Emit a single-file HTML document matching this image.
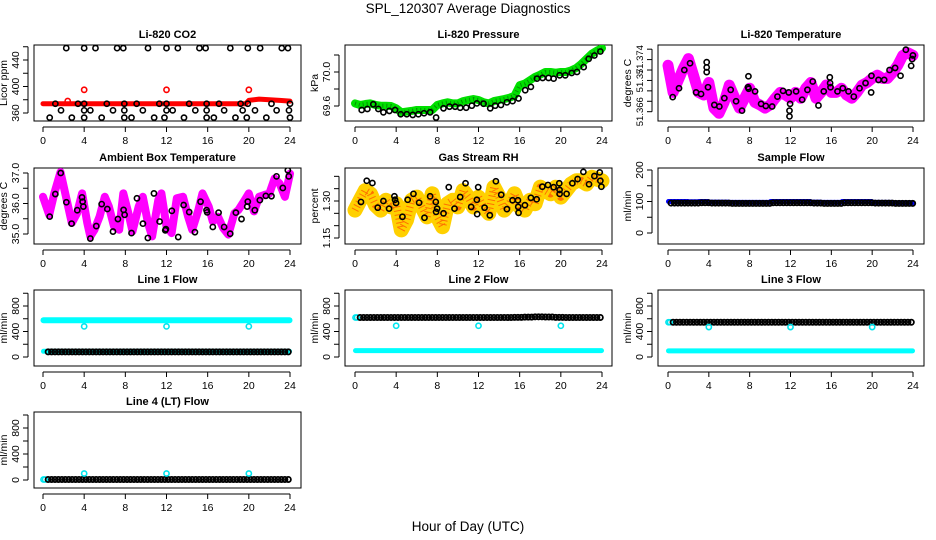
<!DOCTYPE html>
<html><head><meta charset="utf-8">
<style>
html,body{margin:0;padding:0;background:#fff;}
svg{display:block;font-family:"Liberation Sans",Arial,sans-serif;}
</style></head>
<body>
<svg id="chart" width="936" height="540" viewBox="0 0 936 540" xmlns="http://www.w3.org/2000/svg">
<text x="468" y="13" text-anchor="middle" font-size="13.5">SPL_120307  Average Diagnostics</text>
<text x="468" y="531" text-anchor="middle" font-size="13.5">Hour of Day (UTC)</text>
</svg>
<script>
// ---------- data ----------
const xTicks = [0,4,8,12,16,20,24];
// CO2
const co2LineHours = [0,2,4,6,8,10,12,14,16,18,19.7,20,21,22,23,24];
const co2LineVals  = [374,374,374,374,374,374,374,374,374,374,374,379,381,380,379,378];
const co2RedOutHours = [2.4,4,12,20];
const co2RedOutVals  = [378,395,395,395];
const co2BlackHours = [2.26,4.0,5.1,7.2,7.8,10.2,12,13.1,15.2,15.8,18.2,19.9,21.1,23.2,23.8,
 1.2,3.4,4.0,6.2,7.9,9.1,11.3,12,14.2,15.9,17.1,19.2,19.9,22.2,24,
 1.75,4.0,4.6,6.8,7.9,9.7,12,12.6,14.8,15.9,17.6,19.4,20.6,22.7,23.9,
 0.65,2.8,4.0,5.7,7.9,8.6,10.8,11.8,13.7,15.9,16.6,18.7,19.8,21.7,24.0];
const co2BlackVals = [458,458,458,458,458,458,458,458,458,458,458,458,458,458,458,
 374,374,374,374,374,374,374,374,374,374,374,374,374,374,374,
 364,364,364,364,364,364,364,364,364,364,364,364,364,364,364,
 353,353,353,353,353,353,353,353,353,353,353,353,353,353,353];
// Pressure
const halfHours = [0,0.5,1,1.5,2,2.5,3,3.5,4,4.5,5,5.5,6,6.5,7,7.5,8,8.5,9,9.5,10,10.5,11,11.5,12,12.5,13,13.5,14,14.5,15,15.5,16,16.5,17,17.5,18,18.5,19,19.5,20,20.5,21,21.5,22,22.5,23,23.5,24];
const presGreen = [69.631,69.612,69.623,69.631,69.612,69.604,69.604,69.6,69.573,69.526,69.534,69.542,69.553,69.553,69.553,69.553,69.612,69.631,69.643,69.631,69.631,69.658,69.670,69.682,69.670,69.643,69.631,69.658,69.670,69.682,69.697,69.720,69.845,69.864,69.903,69.942,69.969,70.0,70.0,69.992,70.0,70.0,70.019,70.047,70.097,70.155,70.214,70.252,70.280];
const presBlackHours = [0.65,1.2,1.78,2.27,2.76,3.34,3.89,4.44,5.03,5.61,6.16,6.71,7.3,7.88,8.6,9.18,9.73,10.22,10.8,11.35,11.84,12.49,13.14,13.62,14.18,14.76,15.31,15.89,16.54,17.09,17.68,18.23,18.81,19.3,19.88,20.43,21.05,21.57,22.22,22.71,23.26,23.84];
const presBlackVals = [69.553,69.565,69.620,69.565,69.526,69.542,69.553,69.503,69.503,69.495,69.503,69.515,69.526,69.464,69.573,69.592,69.592,69.580,69.580,69.604,69.631,69.627,69.573,69.604,69.612,69.643,69.658,69.689,69.786,69.825,69.922,69.930,69.930,69.922,69.961,69.961,69.988,70.0,70.058,70.155,70.194,70.241];
// Li-820 temperature
const tempMag = [51.3729,51.3677,51.3700,51.3723,51.3742,51.3710,51.3677,51.3672,51.3696,51.3647,51.3637,51.3658,51.3691,51.3668,51.3647,51.3666,51.3685,51.3658,51.3653,51.3647,51.3653,51.3666,51.3677,51.3672,51.3666,51.3677,51.3666,51.3685,51.3696,51.3666,51.3677,51.3691,51.3677,51.3677,51.3685,51.3672,51.3666,51.3677,51.3691,51.3696,51.3704,51.3710,51.3704,51.3704,51.3715,51.3729,51.3748,51.3753,51.3748];
const tempBlackHours = [0.46,1.08,1.6,2.16,2.75,3.24,3.79,3.79,3.79,3.92,4.54,5.03,5.52,6.14,6.67,7.25,7.88,7.84,7.9,8.53,9.12,9.58,10.2,10.72,11.27,11.83,11.96,11.9,11.9,12.55,13.14,13.66,14.18,14.74,15.26,15.85,15.88,15.92,16.6,17.12,17.68,18.2,18.76,19.35,19.93,19.9,20.62,21.18,21.7,22.25,22.78,23.3,23.82,23.92,23.99];
const tempBlackVals = [51.3668,51.3685,51.3720,51.3733,51.3677,51.3674,51.3735,51.3725,51.3716,51.3687,51.3653,51.3650,51.3666,51.3682,51.3660,51.3642,51.3708,51.3687,51.3684,51.3679,51.3655,51.3651,51.3650,51.3669,51.3680,51.3677,51.3655,51.3642,51.3631,51.3679,51.3663,51.3682,51.3698,51.3652,51.3679,51.3706,51.3695,51.3687,51.3679,51.3685,51.3679,51.3669,51.3685,51.3695,51.3709,51.3677,51.3701,51.3701,51.3720,51.3724,51.3709,51.3759,51.3728,51.3741,51.3748];
// Ambient box temperature
const ambHours = [0,0.6,1.1,1.7,2.2,2.8,3.3,3.8,4.3,4.6,5.0,5.5,6.0,6.4,6.9,7.4,7.8,8.3,8.7,9.3,9.7,10.2,10.6,11.2,11.5,12.0,12.5,13.0,13.6,14.1,14.5,15.1,15.5,16.1,16.5,17.0,17.5,18.0,18.6,19.0,19.6,20.0,20.5,21.0,21.5,22.0,22.5,23.0,23.5,24];
const ambMag = [36.22,35.63,36.33,37.03,36.28,35.36,35.68,36.33,35.36,34.92,35.14,35.57,36.22,35.9,35.25,35.14,36.33,35.68,35.09,35.9,36.22,35.36,34.92,36.11,36.33,35.25,35.03,36.17,36.22,35.57,35.14,35.79,36.33,35.9,35.41,35.57,35.2,34.98,35.68,35.79,36.11,36.33,35.74,36.22,36.28,36.33,36.82,36.65,36.22,36.98];
const ambBlackHours = [0.65,1.2,1.72,2.27,2.78,3.33,3.79,3.85,3.92,4.6,5.18,5.7,6.25,6.8,7.28,7.83,7.93,8.6,9.13,9.71,10.19,10.78,11.33,11.88,11.94,12.52,13.14,13.66,14.21,14.76,15.31,15.89,15.95,16.5,17.06,17.6,18.19,18.74,19.29,19.84,19.9,20.58,21.07,21.65,22.2,22.69,23.3,23.79,23.88];
const ambBlackVals = [35.57,36.31,37.0,36.04,35.34,35.78,36.2,36.06,35.9,34.85,35.26,35.98,35.82,35.08,35.49,35.79,35.63,35.03,36.17,35.34,34.87,36.33,35.41,35.12,35.16,35.76,34.9,35.95,35.72,35.06,36.06,35.78,35.71,35.23,35.7,35.23,35.01,35.7,35.49,35.9,36.06,35.78,36.11,36.25,36.24,36.89,36.51,37.09,36.89];
// Gas stream RH
const rhBand = [1.263,1.303,1.342,1.329,1.283,1.263,1.303,1.276,1.289,1.183,1.223,1.303,1.316,1.276,1.236,1.329,1.236,1.196,1.289,1.303,1.276,1.342,1.316,1.276,1.316,1.276,1.250,1.356,1.316,1.263,1.289,1.329,1.276,1.263,1.303,1.289,1.356,1.342,1.329,1.356,1.316,1.342,1.369,1.382,1.382,1.369,1.396,1.389,1.382];
const rhBlackHours = [0.58,1.14,1.69,2.21,2.76,3.31,3.83,3.89,3.99,4.61,5.12,5.68,6.23,6.75,7.3,7.85,7.88,7.98,8.6,9.11,9.67,10.22,10.74,11.29,11.84,11.87,11.97,12.59,13.1,13.69,14.21,14.76,15.31,15.83,15.86,15.89,16.51,17.09,17.65,18.2,18.75,19.3,19.85,19.88,19.88,20.56,21.12,21.63,22.19,22.74,23.26,23.78,23.84,23.94];
const rhBlackVals = [1.296,1.382,1.373,1.273,1.300,1.269,1.319,1.305,1.292,1.236,1.305,1.329,1.293,1.232,1.319,1.296,1.256,1.269,1.250,1.356,1.269,1.316,1.372,1.276,1.305,1.247,1.356,1.273,1.242,1.380,1.325,1.267,1.303,1.303,1.276,1.252,1.283,1.313,1.307,1.358,1.365,1.356,1.372,1.345,1.329,1.329,1.372,1.389,1.418,1.368,1.401,1.416,1.382,1.358];
// Flows (hourly values, hour 0..23)
const sampleBlue  = [100,100,99,100,98,98,97,97,97,97,100,100,100,100,98,97,97,100,100,100,97,97,96,96];
const sampleBlack = [95,95,95,96,95,95,94,94,94,94,96,96,96,96,95,94,94,96,96,96,95,95,94,94];
const line1CyanHigh = [575,575,575,575,575,575,575,575,575,575,575,575,575,575,575,575,575,575,575,575,575,575,575,575];
const line1CyanLow  = [90,90,90,90,90,90,90,90,90,90,90,90,90,90,90,90,90,90,90,90,90,90,90,90];
const line1Black    = [80,80,80,80,80,80,80,80,80,80,80,80,80,80,80,80,80,80,80,80,80,80,80,80];
const line2CyanLow  = [100,100,100,100,100,100,100,100,100,100,100,100,100,100,100,100,100,100,100,100,100,100,100,100];
const line2Black    = [620,620,620,620,620,620,620,620,620,620,620,620,620,620,620,622,625,630,628,622,620,620,620,620];
const line3CyanLow  = [95,95,95,95,95,95,95,95,95,95,95,95,95,95,95,95,95,95,95,95,95,95,95,95];
const line3Black    = [545,545,545,545,545,545,545,545,545,545,545,545,545,545,545,545,545,545,545,545,545,545,545,545];
const line4Black    = [8,8,8,8,8,8,8,8,8,8,8,8,8,8,8,8,8,8,8,8,8,8,8,8];
const outHours = [4,12,20];
const line1Out = [480,480,480];
const line2Out = [490,490,490];
const line3Out = [470,470,470];
const line4Out = [100,100,100];
const lineStartCyan = [575,620,545,8];

// ---------- drawing ----------
const NS = 'http://www.w3.org/2000/svg';
const svg = document.getElementById('chart');
const cols = [{l:34,r:301,x0:43,x24:290},{l:345,r:612,x0:355,x24:602},{l:658,r:924,x0:668,x24:913}];
const rows = [45,168,290,412];
const H = 76;
let clipN = 0;
function mk(tag, attrs, parent){ const e=document.createElementNS(NS,tag); for(const k in attrs) e.setAttribute(k,attrs[k]); (parent||svg).appendChild(e); return e; }

function panel(name, title, ci, ri, yv1, yp1, yv2, yp2, yTickVals, yLabelVals, yLabelText, yTitle, lblSize){
  const c=cols[ci], top=rows[ri], bot=top+H;
  const g=mk('g',{});  
  const xs = h => c.x0 + (c.x24-c.x0)*h/24;
  const ys = v => top + yp1 + (v-yv1)*(yp2-yp1)/(yv2-yv1);
  const t=mk('text',{x:(c.l+c.r)/2,y:top-7,'text-anchor':'middle','font-size':'11','font-weight':'bold'},g); t.textContent=title;
   
  const box=mk('rect',{x:c.l,y:top,width:c.r-c.l,height:H,fill:'none',stroke:'#000','stroke-width':1},g);
   
  const xa=mk('g',{},g);  
  mk('line',{x1:xs(0),x2:xs(24),y1:bot+6,y2:bot+6,stroke:'#000'},xa);
  xTicks.forEach(tk=>{ mk('line',{x1:xs(tk),x2:xs(tk),y1:bot+6,y2:bot+11,stroke:'#000'},xa);
    const tl=mk('text',{x:xs(tk),y:bot+23,'text-anchor':'middle','font-size':'10.5'},xa); tl.textContent=tk;
      });
  const ya=mk('g',{},g);  
  const ax=c.l-6;
  mk('line',{x1:ax,x2:ax,y1:ys(yTickVals[0]),y2:ys(yTickVals[yTickVals.length-1]),stroke:'#000'},ya);
  yTickVals.forEach(v=>mk('line',{x1:ax-5,x2:ax,y1:ys(v),y2:ys(v),stroke:'#000'},ya));
  yLabelVals.forEach((v,i)=>{ const y=ys(v); const tl=mk('text',{x:ax-9,y:y,'text-anchor':'middle','font-size':lblSize||'10.5',transform:`rotate(-90 ${ax-9} ${y})`},ya); tl.textContent=yLabelText[i];
      });
  const yt=mk('text',{x:c.l-27,y:(top+bot)/2,'text-anchor':'middle','font-size':'10.5',transform:`rotate(-90 ${c.l-27} ${(top+bot)/2})`},g); yt.textContent=yTitle;
   
  const id='clip'+(clipN++);
  const cp=mk('clipPath',{id:id},g); mk('rect',{x:c.l,y:top,width:c.r-c.l,height:H},cp);
  const plot=mk('g',{'clip-path':`url(#${id})`},g);
   
  return {xs,ys,plot};
}
function band(p, hours, vals, color, w, name, dash, dashOp){
  const pts=hours.map((h,i)=>p.xs(h).toFixed(1)+','+p.ys(vals[i]).toFixed(1)).join(' ');
  const pl=mk('polyline',{points:pts,fill:'none',stroke:color,'stroke-width':w,'stroke-linejoin':'round','stroke-linecap':'round'},p.plot);
   
  if(dash){ const d=mk('polyline',{points:pts,fill:'none',stroke:dash,'stroke-width':w*0.5,'stroke-dasharray':'1 3','stroke-linejoin':'round','stroke-linecap':'butt',opacity:dashOp||0.5},p.plot);
      }
}
function dots(p, hours, vals, color, name, r, sw){
  const g=mk('g',{},p.plot);  
  hours.forEach((h,i)=>{ const c=mk('circle',{cx:p.xs(h),cy:p.ys(vals[i]),r:r||2.6,fill:'none',stroke:color,'stroke-width':sw||1.6},g);
      });
}
function hourlyDots(p, arr, color, name, offset){
  const g=mk('g',{},p.plot);  
  arr.forEach((v,i)=>{ for(let k=0;k<3;k++){ const h=i+(offset||0.5)+k/3; if(h>24) continue;
    const c=mk('circle',{cx:p.xs(h),cy:p.ys(v),r:2.6,fill:'none',stroke:color,'stroke-width':1.8},g);
      } });
}
function hourlyBand(p, arr, color, w, name){
  const hrs=[], vals=[]; arr.forEach((v,i)=>{hrs.push(i+0.05);vals.push(v);hrs.push(i+0.95);vals.push(v);});
  band(p, hrs, vals, color, w, name);
}

let p=panel('co2','Li-820 CO2',0,0,440,15,360,68,[360,380,400,420,440,460],[360,400,440],['360','400','440'],'Licor ppm');
band(p,co2LineHours,co2LineVals,'#ff0000',5,'co2-red-series');
dots(p,co2RedOutHours,co2RedOutVals,'#ff0000','co2-red-outliers');
dots(p,co2BlackHours,co2BlackVals,'#000','co2-black-points');

p=panel('pressure','Li-820 Pressure',1,0,70.0,27,69.6,61,[69.6,69.8,70.0,70.2],[69.6,70.0],['69.6','70.0'],'kPa');
band(p,halfHours,presGreen,'#00e000',8,'pressure-green-series','#000',0.35);
dots(p,presBlackHours,presBlackVals,'#000','pressure-black-points');

p=panel('li820-temp','Li-820 Temperature',2,0,51.374,14.6,51.364,66.7,[51.364,51.366,51.368,51.370,51.372,51.374,51.376],[51.364,51.370,51.374],['51.366','51.37','51.374'],'degrees C','9.5');
band(p,halfHours,tempMag,'#ff00ff',11,'temp-magenta-series');
dots(p,tempBlackHours,tempBlackVals,'#000','temp-black-points');

p=panel('ambient-temp','Ambient Box Temperature',0,1,37.0,5,35.0,66,[35.0,35.5,36.0,36.5,37.0],[35.0,36.0,37.0],['35.0','36.0','37.0'],'degrees C');
band(p,ambHours,ambMag,'#ff00ff',8,'ambient-magenta-series');
dots(p,ambBlackHours,ambBlackVals,'#000','ambient-black-points');

p=panel('rh','Gas Stream RH',1,1,1.30,33,1.15,70,[1.15,1.20,1.25,1.30,1.35,1.40],[1.15,1.30],['1.15','1.30'],'percent');
band(p,halfHours,rhBand,'#ffd000',15,'rh-orange-series','#ff3000',0.6);
dots(p,rhBlackHours,rhBlackVals,'#000','rh-black-points');

p=panel('sample-flow','Sample Flow',2,1,200,2,0,65,[0,50,100,150,200],[0,100,200],['0','100','200'],'ml/min');
hourlyBand(p,sampleBlue,'#0000ff',5,'sample-blue-series');
hourlyDots(p,sampleBlack,'#000','sample-black-points',0.3);

const fTicks=[0,200,400,600,800,1000], fLab=[0,400,800], fLabT=['0','400','800'];
p=panel('line1','Line 1 Flow',0,2,800,16,0,67,fTicks,fLab,fLabT,'ml/min');
hourlyBand(p,line1CyanHigh,'#00ffff',6,'line1-cyan-high');
hourlyBand(p,line1CyanLow,'#00ffff',5,'line1-cyan-low');
hourlyDots(p,line1Black,'#000','line1-black-points',0.5);
dots(p,outHours,line1Out,'#00e5ee','line1-outliers');
p=panel('line2','Line 2 Flow',1,2,800,16,0,67,fTicks,fLab,fLabT,'ml/min');
hourlyBand(p,line2CyanLow,'#00ffff',5,'line2-cyan-low');
dots(p,[0.05,0.2],[lineStartCyan[1],lineStartCyan[1]],'#00e5ee','line2-start');
hourlyDots(p,line2Black,'#000','line2-black-points',0.5);
dots(p,outHours,line2Out,'#00e5ee','line2-outliers');
p=panel('line3','Line 3 Flow',2,2,800,16,0,67,fTicks,fLab,fLabT,'ml/min');
hourlyBand(p,line3CyanLow,'#00ffff',5,'line3-cyan-low');
dots(p,[0.05,0.2],[lineStartCyan[2],lineStartCyan[2]],'#00e5ee','line3-start');
hourlyDots(p,line3Black,'#000','line3-black-points',0.5);
dots(p,outHours,line3Out,'#00e5ee','line3-outliers');
p=panel('line4','Line 4 (LT) Flow',0,3,800,16,0,68,fTicks,fLab,fLabT,'ml/min');
dots(p,[0.05,0.2],[lineStartCyan[3],lineStartCyan[3]],'#00e5ee','line4-start');
hourlyDots(p,line4Black,'#000','line4-black-points',0.5);
dots(p,outHours,line4Out,'#00e5ee','line4-outliers');
</script>
</body></html>
